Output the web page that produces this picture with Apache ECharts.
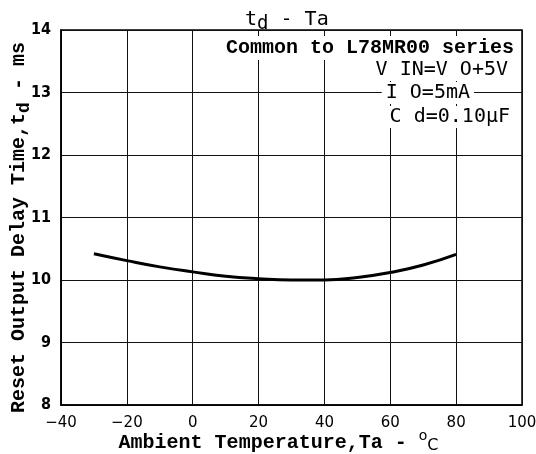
<!DOCTYPE html>
<html>
<head>
<meta charset="utf-8">
<script src="https://cdn.jsdelivr.net/npm/echarts@6/dist/echarts.min.js"></script>
<style>html,body{margin:0;padding:0;background:#fff}#c{width:536px;height:454px}</style>
</head>
<body>
<div id="c"></div>
<script>
const temps = [-30, -20, -10, 0, 10, 20, 30, 40, 50, 60, 70, 80];
const delays = [10.42, 10.31, 10.21, 10.13, 10.06, 10.02, 10.0, 10.0, 10.04, 10.12, 10.24, 10.41];
const xTicks = [-40, -20, 0, 20, 40, 60, 80, 100];
const yTicks = [8, 9, 10, 11, 12, 13, 14];
const noteLines = ['V IN=V O+5V', 'I O=5mA', 'C d=0.10μF'];

const chart = echarts.init(document.getElementById('c'), null, {renderer: 'canvas'});
const mono = "'Liberation Mono', 'DejaVu Sans Mono', monospace";
const sansMono = "'DejaVu Sans Mono', monospace";
chart.setOption({
  animation: false,
  backgroundColor: '#fff',
  title: {
    text: '{t|t}{s|d}{t| - Ta}',
    left: 240, top: 0,
    textStyle: {
      color: '#000', fontWeight: 'normal',
      rich: {
        t: {fontFamily: sansMono, fontSize: 20, fontWeight: 'normal', color: '#000'},
        s: {fontFamily: sansMono, fontSize: 19, fontWeight: 'normal', color: '#000', padding: [10, 0, 0, 0]}
      }
    }
  },
  grid: {left: 61, right: 14, top: 30, bottom: 49, show: true, borderColor: '#000', borderWidth: 1.5, outerBoundsMode: 'none', containLabel: false},
  xAxis: {
    type: 'value', min: -40, max: 100, interval: 20,
    name: '{n|Ambient Temperature,Ta - }{o|o}{c|C}',
    nameLocation: 'middle', nameGap: 24, nameMoveOverlap: false,
    nameTextStyle: {
      padding: [0, 26, 0, 0],
      rich: {
        n: {fontFamily: mono, fontWeight: 'bold', fontSize: 20, color: '#000'},
        o: {fontFamily: 'DejaVu Sans', fontSize: 14, color: '#000', padding: [0, 0, 14, 0]},
        c: {fontFamily: 'DejaVu Sans', fontSize: 16, color: '#000', padding: [6, 0, 0, 0]}
      }
    },
    axisLine: {onZero: false, lineStyle: {color: '#000', width: 1.5}},
    axisTick: {show: false},
    axisLabel: {
      margin: 11, color: '#000', fontFamily: 'DejaVu Sans', fontSize: 15,
      formatter: v => xTicks.includes(v) ? String(v).replace('-', '−') : ''
    },
    splitLine: {show: true, lineStyle: {color: '#111', width: 1}}
  },
  yAxis: {
    type: 'value', min: 8, max: 14, interval: 1,
    name: '{n|Reset Output Delay Time,t}{s|d}{n| - ms}',
    nameLocation: 'middle', nameRotate: 90, nameGap: 28, nameMoveOverlap: false,
    nameTextStyle: {
      padding: [0, 20, 0, 0],
      rich: {
        n: {fontFamily: mono, fontWeight: 'bold', fontSize: 20, color: '#000'},
        s: {fontFamily: mono, fontWeight: 'bold', fontSize: 18, color: '#000', padding: [10, 0, 0, 0]}
      }
    },
    axisLine: {onZero: false, lineStyle: {color: '#000', width: 1.5}},
    axisTick: {show: false},
    axisLabel: {
      margin: 10, color: '#000', fontFamily: "'Liberation Sans Narrow', 'DejaVu Sans Condensed', sans-serif",
      fontSize: 16, fontWeight: 'bold',
      formatter: v => yTicks.includes(v) ? String(v) : ''
    },
    splitLine: {show: true, lineStyle: {color: '#111', width: 1}}
  },
  graphic: [
    {type: 'text', right: 18, top: 36, z: 100,
     style: {text: 'Common to L78MR00 series', font: 'bold 20px ' + mono, fill: '#000', backgroundColor: '#fff', padding: [2, 4, 2, 4]}},
    {type: 'text', right: 24, top: 59, z: 100,
     style: {text: noteLines[0], font: '20px ' + sansMono, fill: '#000', backgroundColor: '#fff', padding: [1, 4, 1, 4]}},
    {type: 'text', right: 62, top: 82, z: 100,
     style: {text: noteLines[1], font: '20px ' + sansMono, fill: '#000', backgroundColor: '#fff', padding: [1, 4, 1, 4]}},
    {type: 'text', right: 22, top: 106, z: 100,
     style: {text: noteLines[2], font: '20px ' + sansMono, fill: '#000', backgroundColor: '#fff', padding: [1, 4, 1, 4]}}
  ],
  series: [{
    type: 'line', smooth: true, symbol: 'none',
    data: temps.map((t, i) => [t, delays[i]]),
    lineStyle: {color: '#000', width: 3}
  }]
});
</script>
</body>
</html>
